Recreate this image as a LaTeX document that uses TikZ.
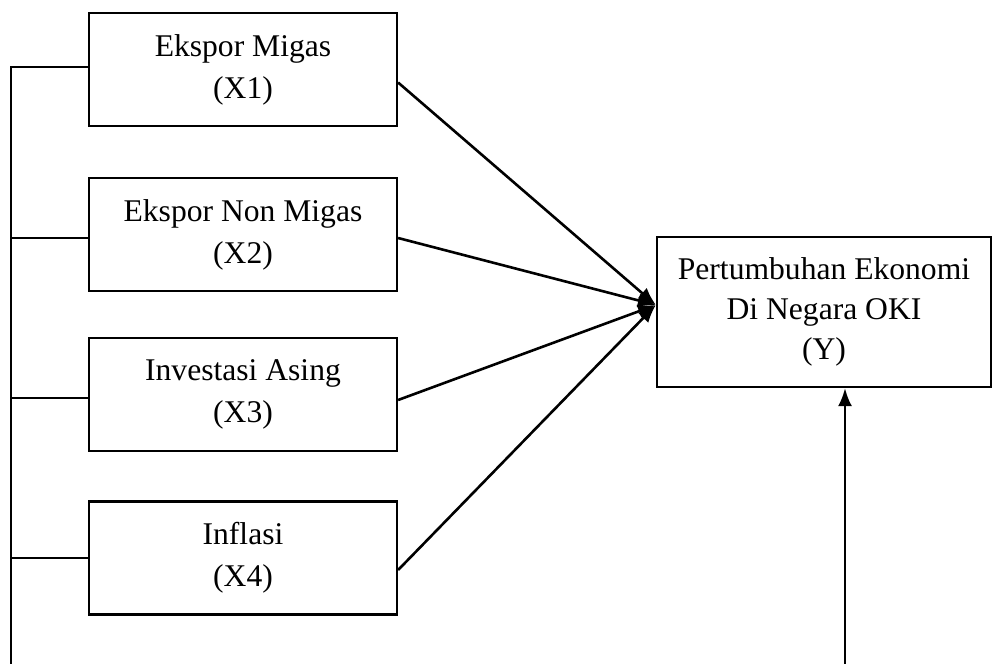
\documentclass[tikz,border=0pt]{standalone}
\usepackage{fontspec}
\setmainfont{Liberation Serif}
\usetikzlibrary{arrows.meta}
\begin{document}
\begin{tikzpicture}[x=0.5pt,y=-0.5pt,
  varbox/.style={draw,line width=1.1pt,minimum width=154pt,minimum height=56.5pt,align=center,inner sep=0pt,
    font=\fontsize{15.8pt}{21pt}\selectfont},
  ybox/.style={draw,line width=1.1pt,minimum width=167pt,minimum height=75pt,align=center,inner sep=0pt,
    font=\fontsize{15.8pt}{20pt}\selectfont},
  link/.style={line width=1.1pt},
  arr/.style={line width=1.3pt,-{Latex[length=9pt,width=7pt]}}]
\useasboundingbox (0,0) rectangle (993,664);
\node[varbox] (x1) at (243,69.5) {Ekspor Migas\\(X1)};
\node[varbox] (x2) at (243,234.5) {Ekspor Non Migas\\(X2)};
\node[varbox] (x3) at (243,394.5) {Investasi Asing\\(X3)};
\node[varbox] (x4) at (243,558) {Inflasi\\(X4)};
\node[ybox] (y) at (824,312) {Pertumbuhan Ekonomi\\Di Negara OKI\\(Y)};
\coordinate (bustop) at (11,67);
\coordinate (busbot) at (11,664);
\coordinate (ybot) at (845,664);
\coordinate (t1) at ([yshift=1.25pt]x1.west);
\coordinate (t2) at ([yshift=-1.75pt]x2.west);
\coordinate (t3) at ([yshift=-1.75pt]x3.west);
\coordinate (t4) at (x4.west);
% bus
\draw[link] (busbot) -- (bustop) -- (t1);
\draw[link] (t2 -| bustop) -- (t2);
\draw[link] (t3 -| bustop) -- (t3);
\draw[link] (t4 -| bustop) -- (t4);
% arrows to Y
\draw[arr] ([yshift=-6.5pt]x1.east) -- ([yshift=3.5pt]y.west);
\draw[arr] ([yshift=-1.75pt]x2.east) -- ([yshift=3.5pt]y.west);
\draw[arr] ([yshift=-2.75pt]x3.east) -- ([yshift=3.5pt]y.west);
\draw[arr] ([yshift=-6pt]x4.east) -- ([yshift=3.5pt]y.west);
\draw[arr] (ybot) -- (y.south -| ybot);
\end{tikzpicture}
\end{document}
